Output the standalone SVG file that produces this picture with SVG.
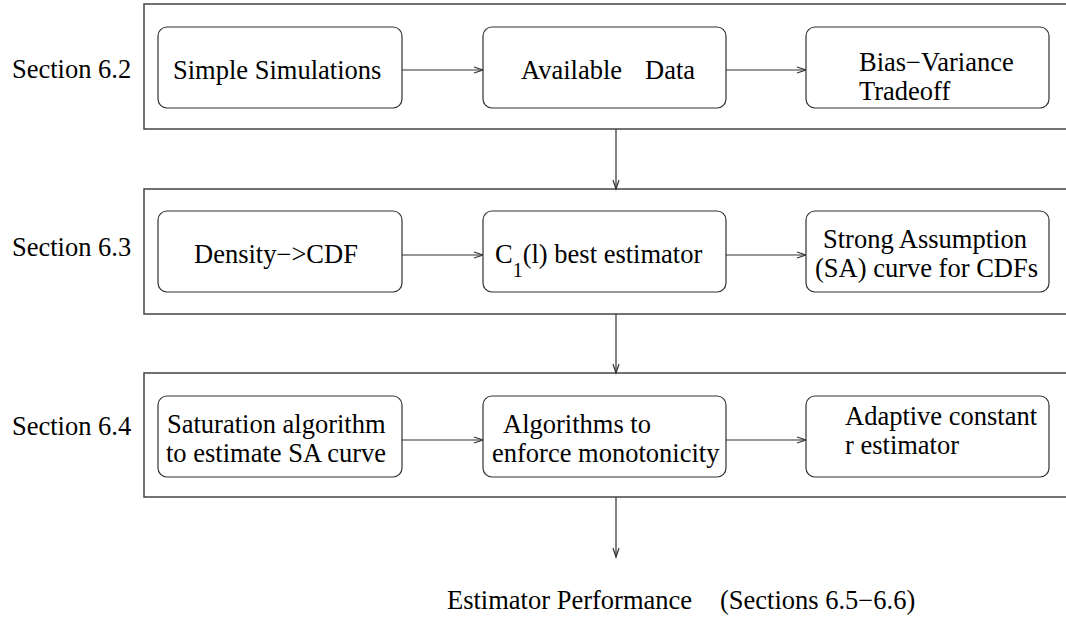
<svg xmlns="http://www.w3.org/2000/svg" width="1066" height="617" viewBox="0 0 1066 617" font-family="Times New Roman" font-size="26.5">
  <style>
    .frame { fill: none; stroke: #444; stroke-width: 1.5; }
    .box { fill: #fff; stroke: #333; stroke-width: 1.2; }
    .link { fill: none; stroke: #333; stroke-width: 1.2; marker-end: url(#vhead); }
  </style>
  <defs>
    <!-- open V arrowhead -->
    <marker id="vhead" markerUnits="userSpaceOnUse" markerWidth="12" markerHeight="10" refX="10" refY="4" orient="auto">
      <path d="M1,1 L10,4 L1,7" fill="none" stroke="#333" stroke-width="1.2"/>
    </marker>
  </defs>
  <rect width="1066" height="617" fill="#fff"/>

  <!-- section frames (open to the right) -->
  <g id="frames">
    <rect class="frame" x="144" y="4" width="930" height="125"/>
    <rect class="frame" x="144" y="189" width="930" height="125"/>
    <rect class="frame" x="144" y="373" width="930" height="124"/>
  </g>

  <!-- connectors -->
  <g id="connectors">
    <line class="link" x1="402" y1="70" x2="483" y2="70"/>
    <line class="link" x1="726" y1="70" x2="806" y2="70"/>
    <line class="link" x1="402" y1="255" x2="483" y2="255"/>
    <line class="link" x1="726" y1="255" x2="806" y2="255"/>
    <line class="link" x1="402" y1="440" x2="483" y2="440"/>
    <line class="link" x1="726" y1="440" x2="806" y2="440"/>
    <line class="link" x1="616" y1="129" x2="616" y2="189"/>
    <line class="link" x1="616" y1="314" x2="616" y2="373"/>
    <line class="link" x1="616" y1="497" x2="616" y2="557"/>
  </g>

  <!-- section labels -->
  <g id="labels">
    <text font-family="Times New Roman" x="12" y="78">Section 6.2</text>
    <text font-family="Times New Roman" x="12" y="256">Section 6.3</text>
    <text font-family="Times New Roman" x="12" y="435">Section 6.4</text>
  </g>

  <!-- section 6.2 -->
  <g id="simple-simulations">
    <rect class="box" x="158" y="27" width="244" height="81" rx="9"/>
    <text font-family="Times New Roman" x="173" y="79">Simple Simulations</text>
  </g>
  <g id="available-data">
    <rect class="box" x="483" y="27" width="243" height="81" rx="9"/>
    <text font-family="Times New Roman" x="521" y="79">Available<tspan x="645">Data</tspan></text>
  </g>
  <g id="bias-variance">
    <rect class="box" x="806" y="27" width="243" height="81" rx="9"/>
    <text font-family="Times New Roman" x="859" y="71">Bias−Variance</text>
    <text font-family="Times New Roman" x="859" y="100">Tradeoff</text>
  </g>

  <!-- section 6.3 -->
  <g id="density-cdf">
    <rect class="box" x="158" y="211" width="244" height="81" rx="9"/>
    <text font-family="Times New Roman" x="194" y="263">Density−&gt;CDF</text>
  </g>
  <g id="c1-estimator">
    <rect class="box" x="483" y="211" width="243" height="81" rx="9"/>
    <text font-family="Times New Roman" x="495" y="263">C<tspan font-size="20" dy="14">1</tspan><tspan dy="-14">(l) best estimator</tspan></text>
  </g>
  <g id="sa-curve">
    <rect class="box" x="806" y="211" width="243" height="81" rx="9"/>
    <text font-family="Times New Roman" x="823" y="248">Strong Assumption</text>
    <text font-family="Times New Roman" x="815" y="277">(SA) curve for CDFs</text>
  </g>

  <!-- section 6.4 -->
  <g id="saturation">
    <rect class="box" x="158" y="396" width="244" height="81" rx="9"/>
    <text font-family="Times New Roman" x="167" y="433">Saturation algorithm</text>
    <text font-family="Times New Roman" x="166" y="462">to estimate SA curve</text>
  </g>
  <g id="monotonicity">
    <rect class="box" x="483" y="396" width="243" height="81" rx="9"/>
    <text font-family="Times New Roman" x="503" y="433">Algorithms to</text>
    <text font-family="Times New Roman" x="492" y="462">enforce monotonicity</text>
  </g>
  <g id="adaptive-r">
    <rect class="box" x="806" y="396" width="243" height="81" rx="9"/>
    <text font-family="Times New Roman" x="845" y="425">Adaptive constant</text>
    <text font-family="Times New Roman" x="845" y="454">r estimator</text>
  </g>

  <!-- result -->
  <g id="performance">
    <text font-family="Times New Roman" x="447" y="609">Estimator Performance<tspan x="720">(Sections 6.5−6.6)</tspan></text>
  </g>
</svg>
